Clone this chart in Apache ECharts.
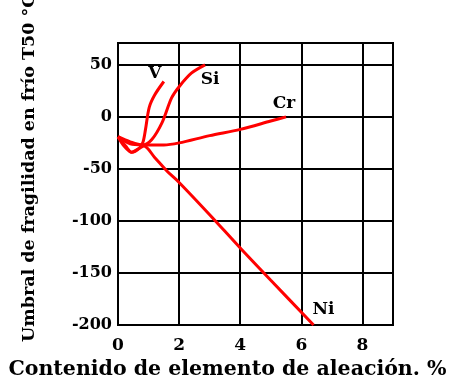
<!DOCTYPE html>
<html>
<head>
<meta charset="utf-8">
<script src="https://cdn.jsdelivr.net/npm/echarts@6/dist/echarts.min.js"></script>
<style>
  html, body { margin: 0; padding: 0; background: #fff; }
  #chart { width: 455px; height: 379px; }
</style>
</head>
<body>
<div id="chart"></div>
<script>
// Alloy content (%) vs. brittleness threshold T50 (°C) per element
const vData = [[0, -19], [0.2, -28], [0.45, -34], [0.7, -30], [0.82, -24], [0.9, -12], [1.02, 9], [1.2, 21], [1.5, 34]];
const siData = [[0, -19], [0.4, -24], [0.8, -27], [1.1, -22], [1.45, -5], [1.75, 18], [2.0, 29], [2.4, 42], [2.85, 50]];
const crData = [[0, -19], [0.4, -26], [0.8, -27], [1.5, -27], [2, -25], [3, -18], [4, -12], [5, -4], [5.5, 0]];
const niData = [[0, -19], [0.25, -28], [0.45, -34], [0.65, -31], [0.85, -28], [1.2, -39], [1.6, -52], [2, -63], [3, -94], [4, -126], [5, -157], [6.4, -200]];
const seriesNames = ['V', 'Si', 'Cr', 'Ni'];
const xTicks = [0, 2, 4, 6, 8];
const yTicks = [-200, -150, -100, -50, 0, 50];

const chart = echarts.init(document.getElementById('chart'));
const font = '"DejaVu Serif", serif';

function lineSeries(name, data, labelOffset) {
  return {
    name: name,
    type: 'line',
    data: data,
    smooth: 0.3,
    showSymbol: false,
    symbol: 'none',
    lineStyle: { color: '#ff0000', width: 3 },
    endLabel: {
      show: true, formatter: name, distance: 0, align: 'center', verticalAlign: 'middle',
      offset: labelOffset,
      color: '#000', fontFamily: font, fontWeight: 'bold', fontSize: 17
    },
    z: 3
  };
}

chart.setOption({
  animation: false,
  grid: {
    left: 118, right: 62, top: 43, bottom: 54,
    containLabel: false, outerBoundsMode: 'none',
    show: true, borderColor: '#000', borderWidth: 2, backgroundColor: '#fff'
  },
  xAxis: {
    type: 'value', min: 0, max: 9, interval: 2,
    name: 'Contenido de elemento de aleación. %',
    nameLocation: 'middle', nameGap: 30,
    nameTextStyle: {
      color: '#000', fontFamily: font, fontWeight: 'bold', fontSize: 20.5,
      padding: [0, 56, 0, 0]
    },
    axisLine: { show: true, lineStyle: { color: '#000', width: 2 } },
    axisTick: { show: false },
    axisLabel: {
      color: '#000', fontFamily: font, fontWeight: 'bold', fontSize: 17, margin: 12,
      formatter: v => (xTicks.includes(v) ? String(v) : '')
    },
    splitLine: { show: true, lineStyle: { color: '#000', width: 2 } }
  },
  yAxis: {
    type: 'value', min: -200, max: 71, interval: 50,
    name: 'Umbral de fragilidad en frío T50 °C',
    nameLocation: 'middle', nameGap: 80, nameRotate: 90,
    nameTextStyle: {
      color: '#000', fontFamily: font, fontWeight: 'bold', fontSize: 17.5,
      padding: [0, 0, 0, 32]
    },
    axisLine: { show: true, lineStyle: { color: '#000', width: 2 } },
    axisTick: { show: false },
    axisLabel: {
      color: '#000', fontFamily: font, fontWeight: 'bold', fontSize: 16, margin: 6,
      formatter: v => (yTicks.includes(v) ? String(v) : '')
    },
    splitLine: { show: true, lineStyle: { color: '#000', width: 2 } }
  },
  series: [
    lineSeries(seriesNames[0], vData, [-9, -8]),
    lineSeries(seriesNames[1], siData, [5, 15]),
    lineSeries(seriesNames[2], crData, [-2, -13]),
    lineSeries(seriesNames[3], niData, [10, -15])
  ]
});
</script>
</body>
</html>
